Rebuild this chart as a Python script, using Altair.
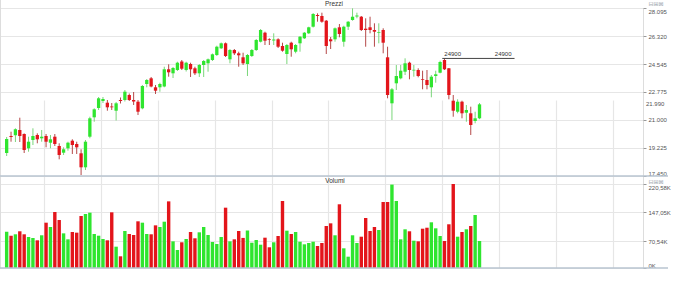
import altair as alt
import pandas as pd

# ---------------- data ----------------
opens = [18907, 19984, 20029, 20365, 20111, 19205, 19731, 20048, 19839, 19984,
         19560, 19940, 19351, 18926, 19205, 19687, 19478, 18888, 18001, 19940,
         21169, 21758, 22202, 22094, 21854, 21587, 22265, 22265, 22582, 22265,
         22158, 21739, 23279, 23640, 23070, 23070, 23121, 24211, 23957, 24166,
         24705, 24166, 24546, 24274, 23957, 24483, 24591, 24800, 25117, 25541,
         25858, 24844, 25433, 25224, 24971, 24546, 25053, 25433, 25959, 26530,
         26130, 26035, 26111, 25687, 25180, 25896, 25326, 25858, 26175, 26492,
         26910, 27651, 27588, 27290, 26111, 26111, 26872, 25959, 26910, 27334,
         27556, 27543, 26783, 26872, 26701, 26510, 26701, 24971, 22056, 23323,
         23640, 24058, 24629, 24134, 24166, 23596, 23533, 23070, 23786, 23995,
         24800, 24274, 22221, 21524, 22158, 21461, 21423, 20935, 21106]
closes = [19794, 19921, 20409, 19984, 19097, 19623, 19984, 19775, 19940, 19623,
          19775, 19478, 18781, 19142, 19560, 19414, 19268, 18001, 19623, 21106,
          21676, 22373, 22329, 21803, 21803, 22056, 22202, 22791, 22265, 22170,
          21524, 23152, 23533, 23121, 22855, 23279, 24211, 24021, 24293, 24629,
          24249, 24629, 24211, 23957, 24483, 24736, 24844, 25161, 25642, 25858,
          25053, 25433, 25224, 25098, 24591, 25117, 25433, 26067, 26701, 26023,
          26086, 26098, 25642, 25389, 25750, 25478, 25750, 26276, 26530, 26872,
          27714, 27588, 27226, 25687, 25985, 26808, 26447, 26910, 27226, 27543,
          27619, 26701, 26701, 26701, 26593, 26555, 25896, 22582, 22943, 23786,
          24122, 24591, 24166, 24179, 23786, 23552, 23216, 23742, 23894, 24673,
          24211, 22582, 21587, 22158, 21423, 21632, 20681, 21106, 21990]
highs = [19921, 20257, 20472, 21144, 20150, 19940, 20472, 20155, 20365, 20111,
         20048, 20111, 19522, 19268, 19623, 19775, 19623, 19142, 19731, 21207,
         21739, 22455, 22455, 22265, 22075, 22139, 22424, 22899, 22677, 22772,
         22265, 23216, 23596, 23723, 23216, 23361, 24375, 24527, 24356, 24692,
         24800, 24692, 24629, 24375, 24546, 24800, 24895, 25212, 25706, 25909,
         25909, 25497, 25497, 25326, 25262, 25180, 25497, 26130, 26764, 26593,
         26175, 26492, 26175, 25896, 25814, 25959, 25814, 26320, 26574, 26910,
         27778, 27759, 27797, 27334, 26257, 26859, 27081, 26973, 27271, 28075,
         27797, 27588, 27442, 27543, 27125, 27125, 26808, 25642, 23026, 24483,
         24483, 24907, 24692, 24483, 24274, 24122, 24166, 23849, 24122, 24755,
         24900, 24293, 22582, 22310, 22221, 21949, 21841, 21524, 22075]
lows = [18717, 19623, 19604, 19604, 18907, 18990, 19414, 19522, 19623, 19268,
        19205, 19351, 18508, 18781, 19053, 18844, 18844, 17513, 17830, 19839,
        20890, 21632, 22075, 21587, 21632, 20966, 22044, 22170, 22202, 21949,
        21315, 21676, 23070, 23070, 22646, 22791, 23070, 23742, 23659, 24103,
        24166, 24071, 23723, 23849, 23723, 23723, 24058, 24736, 25053, 25497,
        24990, 24591, 25117, 24375, 24483, 23786, 24990, 25370, 25909, 25750,
        25750, 25750, 25560, 25326, 24546, 25009, 25224, 25326, 26130, 26447,
        26859, 27226, 27163, 25180, 25497, 25959, 26238, 25642, 26701, 27290,
        27442, 26637, 25642, 26492, 25642, 25858, 25224, 22373, 20998, 22899,
        23577, 23849, 23577, 23742, 23704, 22943, 22943, 22436, 23361, 23957,
        24166, 22310, 21207, 21423, 21106, 20890, 20048, 20789, 21050]
volumes_k = [95.3, 84.8, 88.5, 96.4, 88.5, 81.4, 78.8, 72.7, 85.9, 119.0,
             107.7, 147.0, 126.0, 91.0, 75.3, 94.5, 92.8, 136.6, 141.8, 145.3,
             89.3, 84.8, 76.2, 72.7, 146.2, 56.0, 30.7, 97.2, 89.3, 86.7,
             122.6, 119.0, 89.3, 88.5, 112.0, 107.7, 121.6, 175.0, 70.0, 47.3,
             67.5, 76.2, 94.5, 78.0, 93.7, 107.7, 86.7, 68.3, 63.0, 81.4,
             158.4, 70.0, 75.3, 97.2, 79.0, 98.5, 66.4, 73.5, 61.2, 79.6,
             54.4, 67.5, 84.0, 176.0, 98.0, 89.3, 94.5, 69.0, 62.2, 65.7,
             69.0, 57.8, 65.7, 110.3, 117.3, 85.9, 167.3, 51.7, 29.7, 85.9,
             65.7, 82.2, 131.3, 97.2, 107.7, 99.8, 173.3, 173.3, 219.0, 176.0,
             75.3, 101.6, 96.4, 71.7, 70.0, 103.2, 105.8, 120.0, 104.2, 84.0,
             70.9, 114.8, 220.58, 82.2, 94.5, 101.6, 110.3, 139.2, 70.9]

price_ticks = [17450, 19225, 21000, 22775, 24545, 26320, 28095]
volume_ticks = [0, 70.54, 147.05, 220.58]
grid_idx = [8.5, 21.5, 34.5, 47.5, 60.5, 73.5, 86.5, 99.5, 112.5, 125.5, 138.5]
level_price = [24900]
level_from = [99.5]
level_to = [116.0]
panel_titles = ["Prezzi", "Volumi"]

# ---------------- styling ----------------
GREEN = "#2fe52f"
RED = "#e3151b"
WICK_GREEN = "#7ad67a"
WICK_RED = "#b54848"
GRID = "#e6e6e6"
FRAME = "#b9c4d0"
FONT = "Liberation Sans"

n = len(opens)
df = pd.DataFrame({"idx": list(range(n)), "open": opens, "high": highs,
                   "low": lows, "close": closes, "vol": volumes_k})

W, H = 643, 260
x_scale = alt.Scale(domain=[-0.38, 144.2], nice=False, zero=False)
x_axis = alt.Axis(values=grid_idx, grid=True, gridColor=GRID, gridWidth=1.2,
                  labels=False, ticks=False, domain=False, title=None)
X = alt.X("idx:Q", scale=x_scale, axis=x_axis)

price_scale = alt.Scale(domain=[17450, 28095], range=[168, 0], nice=False, zero=False)
vol_scale = alt.Scale(domain=[0, 220.58], range=[260, 176], nice=False, zero=False)

price_axis = alt.Axis(orient="right", values=price_ticks, grid=True, gridColor=GRID,
                      gridWidth=1.2, domain=False, tickSize=3, tickColor="#999",
                      labelFontSize=6, labelColor="#555", labelFont=FONT,
                      labelPadding=2, labelFlush=True, title=None,
                      labelExpr="replace(format(datum.value, ','), ',', '.')")
vol_axis = alt.Axis(orient="right", values=volume_ticks, grid=True, gridColor=GRID,
                    gridWidth=1.2, domain=False, tickSize=3, tickColor="#999",
                    labelFontSize=6, labelColor="#555", labelFont=FONT,
                    labelPadding=2, labelFlush=True, title=None,
                    labelExpr="datum.value == 0 ? '0K' : replace(format(datum.value, '.2f'), '.', ',') + 'K'")

up = "datum.close >= datum.open"
base = alt.Chart(df)

wicks = base.mark_rule(strokeWidth=1).encode(
    x=X,
    y=alt.Y("low:Q", scale=price_scale, axis=None),
    y2="high:Q",
    color=alt.condition(up, alt.value(WICK_GREEN), alt.value(WICK_RED)),
)
bodies = base.mark_bar(width=3.3).encode(
    x=X,
    y=alt.Y("open:Q", scale=price_scale, axis=price_axis),
    y2="close:Q",
    color=alt.condition(up, alt.value(GREEN), alt.value(RED)),
)
volume = base.mark_bar(width=3.4).encode(
    x=X,
    y=alt.Y("vol:Q", scale=vol_scale, axis=vol_axis),
    y2=alt.datum(0),
    color=alt.condition(up, alt.value(GREEN), alt.value(RED)),
)

lvl = pd.DataFrame({"p": level_price, "a": level_from, "b": level_to,
                    "t": [str(v) for v in level_price]})
level_line = alt.Chart(lvl).mark_rule(color="#444", strokeWidth=1).encode(
    x=alt.X("a:Q", scale=x_scale, axis=x_axis),
    x2="b:Q",
    y=alt.Y("p:Q", scale=price_scale, axis=None),
)
level_txt_l = alt.Chart(lvl).mark_text(align="left", baseline="bottom", dx=2, dy=-1,
                                       fontSize=6, font=FONT, color="#333").encode(
    x=alt.X("a:Q", scale=x_scale, axis=x_axis),
    y=alt.Y("p:Q", scale=price_scale, axis=None),
    text="t:N",
)
level_txt_r = alt.Chart(lvl).mark_text(align="right", baseline="bottom", dx=-3, dy=-1,
                                       fontSize=6, font=FONT, color="#333").encode(
    x=alt.X("b:Q", scale=x_scale, axis=x_axis),
    y=alt.Y("p:Q", scale=price_scale, axis=None),
    text="t:N",
)

last = pd.DataFrame({"c": [closes[-1]],
                     "t": [f"{closes[-1]:,}".replace(",", ".")]})
last_lbl = alt.Chart(last).mark_text(align="left", baseline="middle", fontSize=6,
                                     font=FONT, color="#555").encode(
    x=alt.value(646),
    y=alt.Y("c:Q", scale=price_scale, axis=None),
    text="t:N",
)

one = pd.DataFrame({"k": [0]})
frame_top = alt.Chart(one).mark_rule(color=FRAME, strokeWidth=1.5).encode(
    x=alt.value(0), x2=alt.value(668), y=alt.value(168))
frame_bot = alt.Chart(one).mark_rule(color=FRAME, strokeWidth=1.5).encode(
    x=alt.value(0), x2=alt.value(668), y=alt.value(260))
frame_left = alt.Chart(one).mark_rule(color="#dddddd", strokeWidth=1).encode(
    x=alt.value(0.5), y=alt.value(-8), y2=alt.value(260))

t_price = alt.Chart(pd.DataFrame({"t": [panel_titles[0]]})).mark_text(
    fontSize=6.5, font=FONT, color="#333", baseline="middle").encode(
    x=alt.value(334), y=alt.value(-4), text="t:N")
t_vol = alt.Chart(pd.DataFrame({"t": [panel_titles[1]]})).mark_text(
    fontSize=6.5, font=FONT, color="#333", baseline="middle").encode(
    x=alt.value(335), y=alt.value(173), text="t:N")
icons = alt.Chart(pd.DataFrame({"t": ["⊟⊞⊠", "⊟⊞⊠"], "yy": [0, 1]})).mark_text(
    fontSize=6, font="DejaVu Sans", color="#9aa3ad", baseline="middle").encode(
    x=alt.value(656),
    y=alt.Y("yy:Q", scale=alt.Scale(domain=[0, 1], range=[-4.5, 173.5]), axis=None),
    text="t:N")

chart = alt.layer(
    frame_left, wicks, bodies, volume, level_line, level_txt_l, level_txt_r,
    last_lbl, frame_top, frame_bot, t_price, t_vol, icons,
).resolve_scale(y="independent").properties(
    width=W, height=H,
    padding={"left": 0, "top": 8, "right": 35, "bottom": 20},
    autosize=alt.AutoSizeParams(type="none"),
).configure_view(stroke=None).configure(background="white")

chart.save("out.html", embed_options={"renderer": "svg", "actions": False})
